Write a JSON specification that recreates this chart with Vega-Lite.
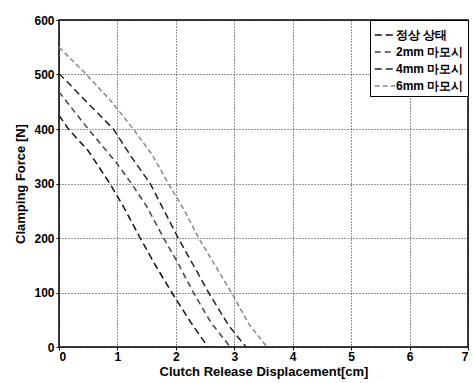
{
  "$schema": "https://vega.github.io/schema/vega-lite/v6.json",
  "autosize": {"type": "none"},
  "padding": {"left": 59, "top": 20, "right": 5, "bottom": 36},
  "width": 409,
  "height": 327,
  "background": "white",
  "config": {
    "view": {"stroke": "black", "strokeWidth": 1.5},
    "font": "Liberation Sans",
    "axis": {
      "labelFont": "Liberation Sans", "labelFontWeight": "bold", "labelFontSize": 12, "labelColor": "black",
      "titleFont": "Liberation Sans", "titleFontWeight": "bold", "titleFontSize": 13, "titleColor": "black",
      "grid": true, "gridColor": "black", "gridDash": [1, 2], "gridOpacity": 0.8, "gridWidth": 1,
      "domain": false, "tickColor": "black", "tickSize": 3, "tickDirection": "in"
    }
  },
  "data": {
    "values": [
      {"s": "정상 상태", "x": 0, "y": 425}, {"s": "정상 상태", "x": 0.16, "y": 400}, {"s": "정상 상태", "x": 0.5, "y": 360},
      {"s": "정상 상태", "x": 0.87, "y": 300}, {"s": "정상 상태", "x": 1.1, "y": 258}, {"s": "정상 상태", "x": 1.39, "y": 200},
      {"s": "정상 상태", "x": 1.65, "y": 150}, {"s": "정상 상태", "x": 1.93, "y": 100}, {"s": "정상 상태", "x": 2.25, "y": 46},
      {"s": "정상 상태", "x": 2.55, "y": 0},
      {"s": "2mm 마모시", "x": 0, "y": 468}, {"s": "2mm 마모시", "x": 0.5, "y": 400}, {"s": "2mm 마모시", "x": 0.99, "y": 337},
      {"s": "2mm 마모시", "x": 1.24, "y": 300}, {"s": "2mm 마모시", "x": 1.5, "y": 258}, {"s": "2mm 마모시", "x": 1.79, "y": 200},
      {"s": "2mm 마모시", "x": 2.03, "y": 155}, {"s": "2mm 마모시", "x": 2.3, "y": 100}, {"s": "2mm 마모시", "x": 2.6, "y": 45},
      {"s": "2mm 마모시", "x": 2.93, "y": 0},
      {"s": "4mm 마모시", "x": 0, "y": 502}, {"s": "4mm 마모시", "x": 0.47, "y": 450}, {"s": "4mm 마모시", "x": 0.93, "y": 400},
      {"s": "4mm 마모시", "x": 1.25, "y": 347}, {"s": "4mm 마모시", "x": 1.56, "y": 300}, {"s": "4mm 마모시", "x": 1.8, "y": 250},
      {"s": "4mm 마모시", "x": 2.04, "y": 200}, {"s": "4mm 마모시", "x": 2.3, "y": 150}, {"s": "4mm 마모시", "x": 2.56, "y": 100},
      {"s": "4mm 마모시", "x": 2.9, "y": 40}, {"s": "4mm 마모시", "x": 3.2, "y": 0},
      {"s": "6mm 마모시", "x": 0, "y": 550}, {"s": "6mm 마모시", "x": 0.47, "y": 500}, {"s": "6mm 마모시", "x": 0.9, "y": 450},
      {"s": "6mm 마모시", "x": 1.27, "y": 400}, {"s": "6mm 마모시", "x": 1.6, "y": 352}, {"s": "6mm 마모시", "x": 1.87, "y": 300},
      {"s": "6mm 마모시", "x": 2.15, "y": 250}, {"s": "6mm 마모시", "x": 2.39, "y": 200}, {"s": "6mm 마모시", "x": 2.67, "y": 150},
      {"s": "6mm 마모시", "x": 2.95, "y": 100}, {"s": "6mm 마모시", "x": 3.25, "y": 42}, {"s": "6mm 마모시", "x": 3.56, "y": 0}
    ]
  },
  "mark": {"type": "line", "strokeWidth": 1.5},
  "encoding": {
    "x": {
      "field": "x", "type": "quantitative",
      "scale": {"domain": [0, 7], "nice": false},
      "axis": {"values": [0, 1, 2, 3, 4, 5, 6, 7], "title": "Clutch Release Displacement[cm]", "titlePadding": 3, "labelPadding": 1, "format": "d"}
    },
    "y": {
      "field": "y", "type": "quantitative",
      "scale": {"domain": [0, 600], "nice": false},
      "axis": {"values": [0, 100, 200, 300, 400, 500, 600], "title": "Clamping Force [N]", "titlePadding": 6, "labelPadding": 2}
    },
    "color": {
      "field": "s", "type": "nominal",
      "scale": {"domain": ["정상 상태", "2mm 마모시", "4mm 마모시", "6mm 마모시"], "range": ["#111111", "#444444", "#222222", "#888888"]},
      "legend": {
        "title": null, "orient": "top-right", "offset": 0, "strokeColor": "black", "fillColor": "white",
        "padding": 4, "symbolType": "stroke", "symbolSize": 420, "symbolStrokeWidth": 1.5,
        "labelFont": "Liberation Sans", "labelFontWeight": "bold", "labelFontSize": 12, "labelColor": "black",
        "rowPadding": 0, "labelOffset": 0
      },
      "sort": null
    },
    "strokeDash": {
      "field": "s", "type": "nominal",
      "scale": {"domain": ["정상 상태", "2mm 마모시", "4mm 마모시", "6mm 마모시"], "range": [[7, 4], [6, 4], [7, 4], [5, 3]]},
      "legend": {
        "title": null, "orient": "top-right", "offset": 0, "strokeColor": "black", "fillColor": "white",
        "padding": 4, "symbolType": "stroke", "symbolSize": 420, "symbolStrokeWidth": 1.5,
        "labelFont": "Liberation Sans", "labelFontWeight": "bold", "labelFontSize": 12, "labelColor": "black",
        "rowPadding": 0, "labelOffset": 0
      },
      "sort": null
    }
  }
}
